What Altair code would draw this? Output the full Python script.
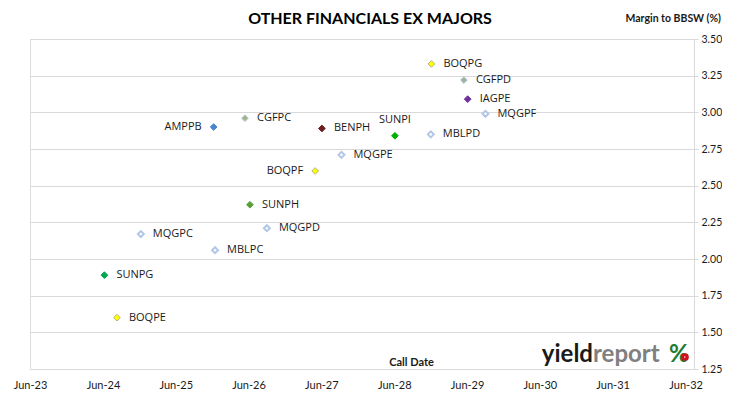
import altair as alt
import pandas as pd

# ---- data ----
names = ["BOQPG", "CGFPD", "IAGPE", "MQGPF", "SUNPI", "MBLPD", "AMPPB", "CGFPC",
         "BENPH", "MQGPE", "BOQPF", "SUNPH", "MQGPD", "MQGPC", "MBLPC", "SUNPG", "BOQPE"]
call_dates = ["2028-12-04", "2029-05-16", "2029-06-04", "2029-09-01", "2028-06-04",
              "2028-12-01", "2025-12-08", "2026-05-14", "2027-06-04", "2027-09-10",
              "2027-05-01", "2026-06-08", "2026-09-01", "2024-12-08", "2025-12-15",
              "2024-06-08", "2024-08-10"]
margins = [3.33, 3.22, 3.09, 2.99, 2.84, 2.85, 2.90, 2.96,
           2.89, 2.71, 2.60, 2.37, 2.21, 2.17, 2.06, 1.89, 1.60]
y_ticks = [1.25, 1.50, 1.75, 2.00, 2.25, 2.50, 2.75, 3.00, 3.25, 3.50]
x_tick_years = list(range(2023, 2033))
chart_title = "OTHER FINANCIALS EX MAJORS"
y_title = "Margin to BBSW (%)"
x_title = "Call Date"

# ---- styles ----
MARKER_STYLE = {
    "BOQPG": ("#ffff00", "#b5b57a"), "BOQPF": ("#ffff00", "#b5b57a"), "BOQPE": ("#ffff00", "#b5b57a"),
    "CGFPD": ("#9fb394", "#b4c6e7"), "CGFPC": ("#a4b688", "#b4c6e7"),
    "IAGPE": ("#7030a0", "#7030a0"),
    "SUNPI": ("#00b000", "#00b000"), "SUNPH": ("#5a9e3a", "#5a9e3a"), "SUNPG": ("#00a651", "#00a651"),
    "AMPPB": ("#4a86cf", "#4a86cf"),
    "BENPH": ("#6d1f1f", "#6d1f1f"),
}
OPEN_STROKE = "#b4c6e7"
LEFT_LABELS = ["AMPPB", "BOQPF"]
ABOVE_LABELS = ["SUNPI"]

df = pd.DataFrame({"name": names, "date": pd.to_datetime(call_dates), "margin": margins})
df["fill"] = [MARKER_STYLE.get(n, ("white", OPEN_STROKE))[0] for n in names]
df["stroke"] = [MARKER_STYLE.get(n, ("white", OPEN_STROKE))[1] for n in names]
df["open"] = [n not in MARKER_STYLE for n in names]

FONT = "Lato"
LBL_FONT = "Open Sans"
GRID = "#d9d9d9"
INK = "#1a1a1a"

x_scale = alt.Scale(domain=[alt.DateTime(year=2023, month=6, date=1),
                            alt.DateTime(year=2032, month=7, date=13)])
y_scale = alt.Scale(domain=[1.25, 3.5], nice=False, zero=False)

x_axis = alt.Axis(values=[alt.DateTime(year=y, month=6, date=1) for y in x_tick_years],
                  format="%b-%y", labelFlush=False, labelOverlap=False, labelBound=False,
                  grid=False, ticks=False, tickSize=0, domain=False, labelPadding=10,
                  labelFont=FONT, labelFontSize=11, labelColor=INK,
                  title=x_title, titleX=381, titleY=-7, titleAlign="center",
                  titleBaseline="middle", titleFont=FONT, titleFontSize=11,
                  titleFontWeight="bold", titleColor=INK)
y_axis = alt.Axis(orient="right", values=y_ticks, format=".2f", grid=True, gridColor=GRID,
                  domainColor=GRID, tickColor=GRID, tickSize=4, labelPadding=3,
                  labelFont=FONT, labelFontSize=10.5, labelColor=INK, title=None)

X = alt.X("date:T", scale=x_scale, axis=x_axis)
Y = alt.Y("margin:Q", scale=y_scale, axis=y_axis)

base = alt.Chart(df)

filled = base.transform_filter("!datum.open").mark_point(
    shape="diamond", filled=True, size=45, strokeWidth=1, opacity=1
).encode(
    x=X, y=Y,
    fill=alt.Fill("fill:N", scale=None),
    stroke=alt.Stroke("stroke:N", scale=None),
)

openm = base.transform_filter("datum.open").mark_point(
    shape="diamond", filled=False, size=36, strokeWidth=2, opacity=1, fill="white"
).encode(
    x=X, y=Y,
    stroke=alt.Stroke("stroke:N", scale=None),
)

txt_kw = dict(font=LBL_FONT, fontSize=11, color=INK, baseline="middle")

lbl_right = base.transform_filter(
    ~alt.FieldOneOfPredicate(field="name", oneOf=LEFT_LABELS + ABOVE_LABELS)
).mark_text(align="left", dx=12, **txt_kw).encode(x=X, y=Y, text="name:N")
lbl_left = base.transform_filter(
    alt.FieldOneOfPredicate(field="name", oneOf=LEFT_LABELS)
).mark_text(align="right", dx=-12, **txt_kw).encode(x=X, y=Y, text="name:N")
lbl_above = base.transform_filter(
    alt.FieldOneOfPredicate(field="name", oneOf=ABOVE_LABELS)
).mark_text(align="center", dy=-16, **txt_kw).encode(x=X, y=Y, text="name:N")

# ---- titles as text ----
ttl_df = pd.DataFrame({"t": [chart_title], "y": [y_title]})
ttl = alt.Chart(ttl_df)
main_title = ttl.mark_text(align="center", baseline="alphabetic", font=FONT, fontSize=16,
                           fontWeight="bold", color="#000000").encode(
    x=alt.value(340), y=alt.value(-15), text="t:N")
yax_title = ttl.mark_text(align="right", baseline="middle", font=FONT, fontSize=10.5,
                          fontWeight="bold", color=INK).encode(
    x=alt.value(691), y=alt.value(-20), text="y:N")

# ---- yieldreport logo ----
logo_df = pd.DataFrame({"a": ["yield"], "b": ["report"], "c": ["%"]})
logo = alt.Chart(logo_df)
logo_yield = logo.mark_text(align="right", baseline="alphabetic", font=FONT, fontSize=24,
                            fontWeight="bold", color=INK).encode(
    x=alt.value(563), y=alt.value(323), text="a:N")
logo_report = logo.mark_text(align="left", baseline="alphabetic", font=FONT, fontSize=24,
                             fontWeight="bold", color="#808080").encode(
    x=alt.value(563), y=alt.value(323), text="b:N")
logo_pct = logo.mark_text(align="left", baseline="alphabetic", font=FONT, fontSize=24,
                          fontWeight="bold", color="#1e7b34").encode(
    x=alt.value(639), y=alt.value(323), text="c:N")
logo_red = logo.mark_point(shape="circle", filled=False, size=22, strokeWidth=3,
                           color="#d0101e", opacity=1).encode(
    x=alt.value(655), y=alt.value(318))

chart = alt.layer(
    filled, openm, lbl_right, lbl_left, lbl_above,
    main_title, yax_title,
    logo_yield, logo_report, logo_pct, logo_red
).properties(
    width=664, height=330,
    autosize=alt.AutoSizeParams(type="none"),
    padding={"left": 22, "top": 31, "right": 28, "bottom": 20},
).configure_view(stroke=GRID, strokeWidth=1).configure(background="white")

chart.save("out.html", embed_options={"renderer": "svg", "actions": False})
